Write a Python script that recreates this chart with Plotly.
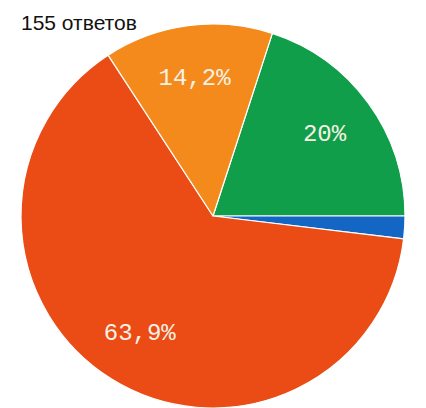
import plotly.graph_objects as go

labels = ["A", "B", "C", "D"]
values = [20.0, 1.9, 63.9, 14.2]
text_labels = ["20%", "", "63,9%", "14,2%"]
colors = ["#109e4a", "#1466c4", "#eb4b15", "#f48a1b"]
title_text = "155 ответов"

# page body adds an 8px offset; compensate in figure coordinates
W, H = 426, 408
cx, cy, R = 205, 208, 192
dom = dict(x=[(cx - R) / W, (cx + R) / W], y=[(H - cy - R) / H, (H - cy + R) / H])

fig = go.Figure()
fig.add_trace(go.Pie(
    labels=labels,
    values=values,
    textinfo="none",
    sort=False,
    direction="clockwise",
    rotation=18,
    marker=dict(colors=colors, line=dict(color="#ffffff", width=1.2)),
    hoverinfo="none",
    showlegend=False,
    domain=dom,
))
# transparent ring overlay to place the percentage labels further out
fig.add_trace(go.Pie(
    labels=labels,
    values=values,
    text=text_labels,
    textinfo="text",
    textposition="inside",
    insidetextorientation="horizontal",
    hole=0.44,
    sort=False,
    direction="clockwise",
    rotation=18,
    marker=dict(colors=["rgba(0,0,0,0)"] * 4, line=dict(width=0)),
    textfont=dict(family="Liberation Mono", size=24, color="#f6f1e4"),
    hoverinfo="none",
    showlegend=False,
    domain=dom,
))

fig.add_annotation(
    text=title_text, xref="paper", yref="paper",
    x=11 / W, y=1 - 15 / H, xanchor="left", yanchor="middle",
    showarrow=False,
    font=dict(family="Liberation Sans", size=21, color="#111111"),
)

fig.update_layout(
    width=W, height=H,
    margin=dict(l=0, r=0, t=0, b=0),
    paper_bgcolor="#ffffff",
    plot_bgcolor="#ffffff",
)

fig.write_html("out.html")
